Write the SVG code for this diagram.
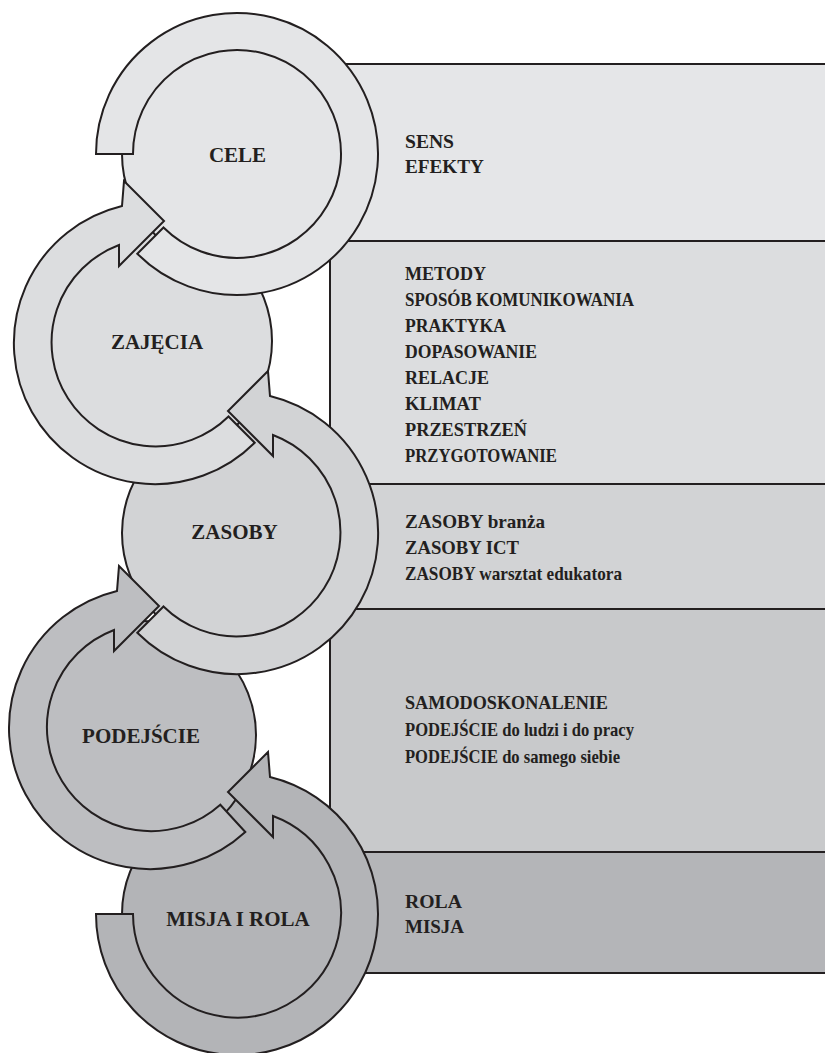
<svg xmlns="http://www.w3.org/2000/svg" width="825" height="1053" viewBox="0 0 825 1053">
<style>
.ln{stroke:#231f20;stroke-width:2;stroke-linejoin:miter}
.pt{font-family:"Liberation Serif","Times New Roman",serif;font-weight:bold;font-size:19px;fill:#231f20}
.lb{font-family:"Liberation Serif","Times New Roman",serif;font-weight:bold;font-size:21px;fill:#231f20;text-anchor:middle}
</style>
<rect width="825" height="1053" fill="#ffffff"/>
<g id="panels">
<g id="panel-cele"><rect x="300" y="64" width="530" height="177" fill="#e5e6e8" class="ln"/></g>
<g id="panel-zajecia"><rect x="330" y="241" width="500" height="243" fill="#dcdddf" class="ln"/></g>
<g id="panel-zasoby"><rect x="330" y="484" width="500" height="125" fill="#d2d3d5" class="ln"/></g>
<g id="panel-podejscie"><rect x="330" y="609" width="500" height="243" fill="#c8c9cb" class="ln"/></g>
<g id="panel-misja"><rect x="330" y="852" width="500" height="121" fill="#b4b5b8" class="ln"/></g>
</g>
<g id="disks">
<circle id="disk-misja" cx="237" cy="914" r="115" fill="#b3b4b7" class="ln"/>
<circle id="disk-podejscie" cx="142" cy="735" r="114" fill="#bdbec1" class="ln"/>
<circle id="disk-zasoby" cx="237" cy="533" r="115" fill="#d2d3d5" class="ln"/>
<circle id="disk-zajecia" cx="154" cy="341" r="118" fill="#dcdddf" class="ln"/>
<circle id="disk-cele" cx="237" cy="154" r="115" fill="#e4e5e7" class="ln"/>
</g>
<g id="connectors">
<path id="ring-cele" class="ln" fill="#e4e5e7" d="M96,154 A141,141 0 1 1 137.3,253.7 L163.5,227.5 A104,104 0 1 0 133,154 Z"/>
<path id="ring-zajecia" class="ln" fill="#dcdddf" d="M254.7,442.7 A141,141 0 1 1 122,206 L124,181 L164,221 L119,266 L119,245 A104,104 0 1 0 228.5,416.5 Z"/>
<path id="ring-zasoby" class="ln" fill="#d2d3d5" d="M137.3,632.7 A141,141 0 1 0 270,396 L268,371 L228,411 L273,456 L273,435 A104,104 0 1 1 163.5,606.5 Z"/>
<path id="ring-podejscie" class="ln" fill="#bdbec1" d="M245.3,832 A141,141 0 1 1 117,591 L119,566 L159,606 L114,651 L114,630 A104,104 0 1 0 220.3,804.7 Z"/>
<path id="ring-misja" class="ln" fill="#b3b4b7" d="M96,914 A141,141 0 1 0 270,777 L268,752 L228,792 L273,837 L273,816 A104,104 0 1 1 133,914 Z"/>
</g>
<g id="node-cele">
<text class="lb" x="237.5" y="162">CELE</text>
<text class="pt" x="405" y="148" textLength="49" lengthAdjust="spacingAndGlyphs">SENS</text>
<text class="pt" x="405" y="173" textLength="79" lengthAdjust="spacingAndGlyphs">EFEKTY</text>
</g>
<g id="node-zajecia">
<text class="lb" x="157" y="349">ZAJĘCIA</text>
<text class="pt" x="405" y="280" textLength="81" lengthAdjust="spacingAndGlyphs">METODY</text>
<text class="pt" x="405" y="306" textLength="229" lengthAdjust="spacingAndGlyphs">SPOSÓB KOMUNIKOWANIA</text>
<text class="pt" x="405" y="332" textLength="101" lengthAdjust="spacingAndGlyphs">PRAKTYKA</text>
<text class="pt" x="405" y="358" textLength="132" lengthAdjust="spacingAndGlyphs">DOPASOWANIE</text>
<text class="pt" x="405" y="384" textLength="84" lengthAdjust="spacingAndGlyphs">RELACJE</text>
<text class="pt" x="405" y="410" textLength="76" lengthAdjust="spacingAndGlyphs">KLIMAT</text>
<text class="pt" x="405" y="436" textLength="122" lengthAdjust="spacingAndGlyphs">PRZESTRZEŃ</text>
<text class="pt" x="405" y="462" textLength="152" lengthAdjust="spacingAndGlyphs">PRZYGOTOWANIE</text>
</g>
<g id="node-zasoby">
<text class="lb" x="234.5" y="539">ZASOBY</text>
<text class="pt" x="405" y="528" textLength="140" lengthAdjust="spacingAndGlyphs">ZASOBY branża</text>
<text class="pt" x="405" y="554" textLength="114" lengthAdjust="spacingAndGlyphs">ZASOBY ICT</text>
<text class="pt" x="405" y="580" textLength="217" lengthAdjust="spacingAndGlyphs">ZASOBY warsztat edukatora</text>
</g>
<g id="node-podejscie">
<text class="lb" x="141" y="743">PODEJŚCIE</text>
<text class="pt" x="405" y="709" textLength="203" lengthAdjust="spacingAndGlyphs">SAMODOSKONALENIE</text>
<text class="pt" x="405" y="736" textLength="229" lengthAdjust="spacingAndGlyphs">PODEJŚCIE do ludzi i do pracy</text>
<text class="pt" x="405" y="763" textLength="215" lengthAdjust="spacingAndGlyphs">PODEJŚCIE do samego siebie</text>
</g>
<g id="node-misja">
<text class="lb" x="238" y="926">MISJA I ROLA</text>
<text class="pt" x="405" y="908" textLength="57" lengthAdjust="spacingAndGlyphs">ROLA</text>
<text class="pt" x="405" y="933" textLength="59" lengthAdjust="spacingAndGlyphs">MISJA</text>
</g>
</svg>
